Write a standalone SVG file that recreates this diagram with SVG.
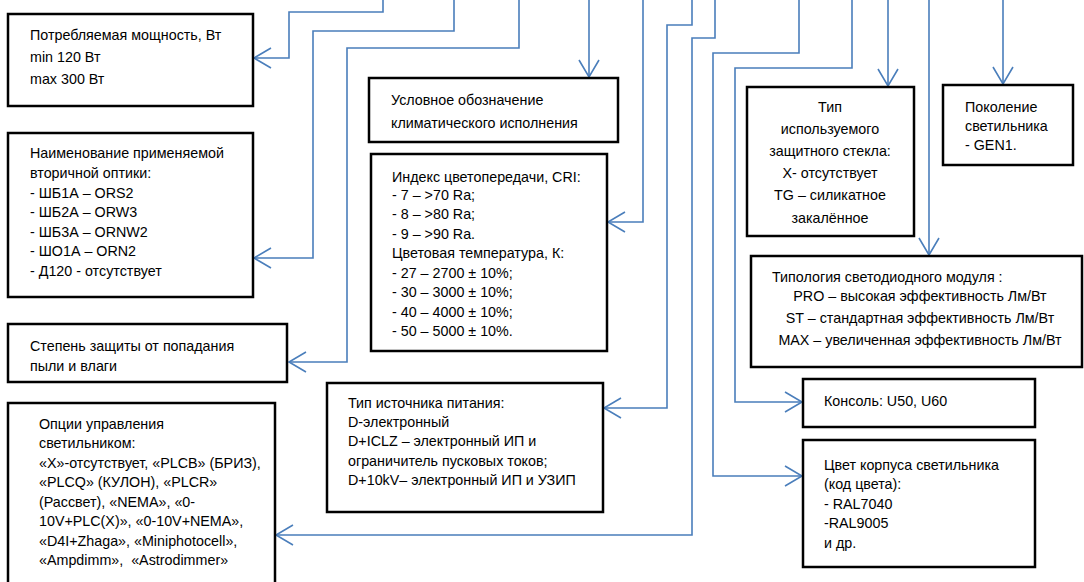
<svg xmlns="http://www.w3.org/2000/svg" width="1084" height="582" viewBox="0 0 1084 582">
<style>
.box{fill:#fff;stroke:#000;stroke-width:2.5}
.t{font-family:"Liberation Sans",Arial,sans-serif;font-size:14.3px;fill:#000}
.c{text-anchor:middle}
.ln{fill:none;stroke:#4a7ebb;stroke-width:1.6}
</style>
<defs>
<marker id="ah" markerUnits="userSpaceOnUse" markerWidth="24" markerHeight="24" refX="0" refY="0" viewBox="-20 -12 24 24" orient="auto" overflow="visible">
<path d="M-17,-10 L0,0 L-17,10" fill="none" stroke="#4a7ebb" stroke-width="1.6"/>
</marker>
</defs>
<rect width="1084" height="582" fill="#fff"/>
<g id="connectors">
<path class="ln" marker-end="url(#ah)" d="M383,0 V12 H289 V58 H254"/>
<path class="ln" marker-end="url(#ah)" d="M454,0 V31 H313 V258 H254"/>
<path class="ln" marker-end="url(#ah)" d="M519,0 V48 H347 V362 H289"/>
<path class="ln" marker-end="url(#ah)" d="M589,0 V77"/>
<path class="ln" marker-end="url(#ah)" d="M643,0 V222 H608"/>
<path class="ln" marker-end="url(#ah)" d="M692,0 V25 H667 V408 H604"/>
<path class="ln" marker-end="url(#ah)" d="M715,0 V38 H692 V535 H276"/>
<path class="ln" marker-end="url(#ah)" d="M799,0 V53 H713 V476 H802"/>
<path class="ln" marker-end="url(#ah)" d="M852,0 V68 H735 V402 H802"/>
<path class="ln" marker-end="url(#ah)" d="M888,0 V86"/>
<path class="ln" marker-end="url(#ah)" d="M929,0 V255"/>
<path class="ln" marker-end="url(#ah)" d="M1003,0 V84"/>
</g>
<g id="power">
<rect class="box" x="8" y="14" width="245" height="92"/>
<text class="t" x="30" y="40">Потребляемая мощность, Вт</text>
<text class="t" x="30" y="62">min 120 Вт</text>
<text class="t" x="30" y="84">max 300 Вт</text>
</g>
<g id="optics">
<rect class="box" x="8" y="133" width="245" height="164"/>
<text class="t" x="30" y="158">Наименование применяемой</text>
<text class="t" x="30" y="178">вторичной оптики:</text>
<text class="t" x="30" y="198">- ШБ1А – ORS2</text>
<text class="t" x="30" y="217">- ШБ2А – ORW3</text>
<text class="t" x="30" y="237">- ШБ3А – ORNW2</text>
<text class="t" x="30" y="256">- ШО1А – ORN2</text>
<text class="t" x="30" y="276">- Д120 - отсутствует</text>
</g>
<g id="ip">
<rect class="box" x="8" y="324" width="279" height="58"/>
<text class="t" x="30" y="351">Степень защиты от попадания</text>
<text class="t" x="30" y="371">пыли и влаги</text>
</g>
<g id="control">
<rect class="box" x="8" y="403" width="267" height="190"/>
<text class="t" x="39" y="429">Опции управления</text>
<text class="t" x="39" y="448">светильником:</text>
<text class="t" x="39" y="468">«Х»-отсутствует, «PLCB» (БРИЗ),</text>
<text class="t" x="39" y="487">«PLCQ» (КУЛОН), «PLCR»</text>
<text class="t" x="39" y="507">(Рассвет), «NEMA», «0-</text>
<text class="t" x="39" y="526">10V+PLC(X)», «0-10V+NEMA»,</text>
<text class="t" x="39" y="546">«D4I+Zhaga», «Miniphotocell»,</text>
<text class="t" x="39" y="565" style="white-space:pre">«Ampdimm»,  «Astrodimmer»</text>
</g>
<g id="climate">
<rect class="box" x="369" y="78" width="249" height="64"/>
<text class="t" x="391" y="105">Условное обозначение</text>
<text class="t" x="391" y="128">климатического исполнения</text>
</g>
<g id="cri">
<rect class="box" x="371" y="154" width="236" height="197"/>
<text class="t" x="392" y="182">Индекс цветопередачи, CRI:</text>
<text class="t" x="392" y="200">- 7 – &gt;70 Ra;</text>
<text class="t" x="392" y="219">- 8 – &gt;80 Ra;</text>
<text class="t" x="392" y="239">- 9 – &gt;90 Ra.</text>
<text class="t" x="392" y="258">Цветовая температура, К:</text>
<text class="t" x="392" y="278">- 27 – 2700 ± 10%;</text>
<text class="t" x="392" y="297">- 30 – 3000 ± 10%;</text>
<text class="t" x="392" y="317">- 40 – 4000 ± 10%;</text>
<text class="t" x="392" y="336">- 50 – 5000 ± 10%.</text>
</g>
<g id="psu">
<rect class="box" x="327" y="383" width="276" height="129"/>
<text class="t" x="348" y="408">Тип источника питания:</text>
<text class="t" x="348" y="427">D-электронный</text>
<text class="t" x="348" y="446">D+ICLZ – электронный ИП и</text>
<text class="t" x="348" y="466">ограничитель пусковых токов;</text>
<text class="t" x="348" y="485">D+10kV– электронный ИП и УЗИП</text>
</g>
<g id="glass">
<rect class="box" x="747" y="87" width="167" height="149"/>
<text class="t c" x="830" y="112">Тип</text>
<text class="t c" x="830" y="134">используемого</text>
<text class="t c" x="830" y="156">защитного стекла:</text>
<text class="t c" x="830" y="178">Х- отсутствует</text>
<text class="t c" x="830" y="200">TG – силикатное</text>
<text class="t c" x="830" y="223">закалённое</text>
</g>
<g id="generation">
<rect class="box" x="943" y="85" width="130" height="80"/>
<text class="t" x="965" y="112">Поколение</text>
<text class="t" x="965" y="131">светильника</text>
<text class="t" x="965" y="150">- GEN1.</text>
</g>
<g id="module">
<rect class="box" x="751" y="256" width="331" height="111"/>
<text class="t" x="772" y="282">Типология светодиодного модуля :</text>
<text class="t c" x="920" y="301">PRO – высокая эффективность Лм/Вт</text>
<text class="t c" x="920" y="323">ST – стандартная эффективность Лм/Вт</text>
<text class="t c" x="920" y="345">MAX – увеличенная эффективность Лм/Вт</text>
</g>
<g id="console">
<rect class="box" x="803" y="379" width="232" height="48"/>
<text class="t" x="824" y="406">Консоль: U50, U60</text>
</g>
<g id="color">
<rect class="box" x="803" y="440" width="232" height="127"/>
<text class="t" x="824" y="470">Цвет корпуса светильника</text>
<text class="t" x="824" y="489">(код цвета):</text>
<text class="t" x="824" y="509">- RAL7040</text>
<text class="t" x="824" y="528">-RAL9005</text>
<text class="t" x="824" y="548">и др.</text>
</g>
</svg>
